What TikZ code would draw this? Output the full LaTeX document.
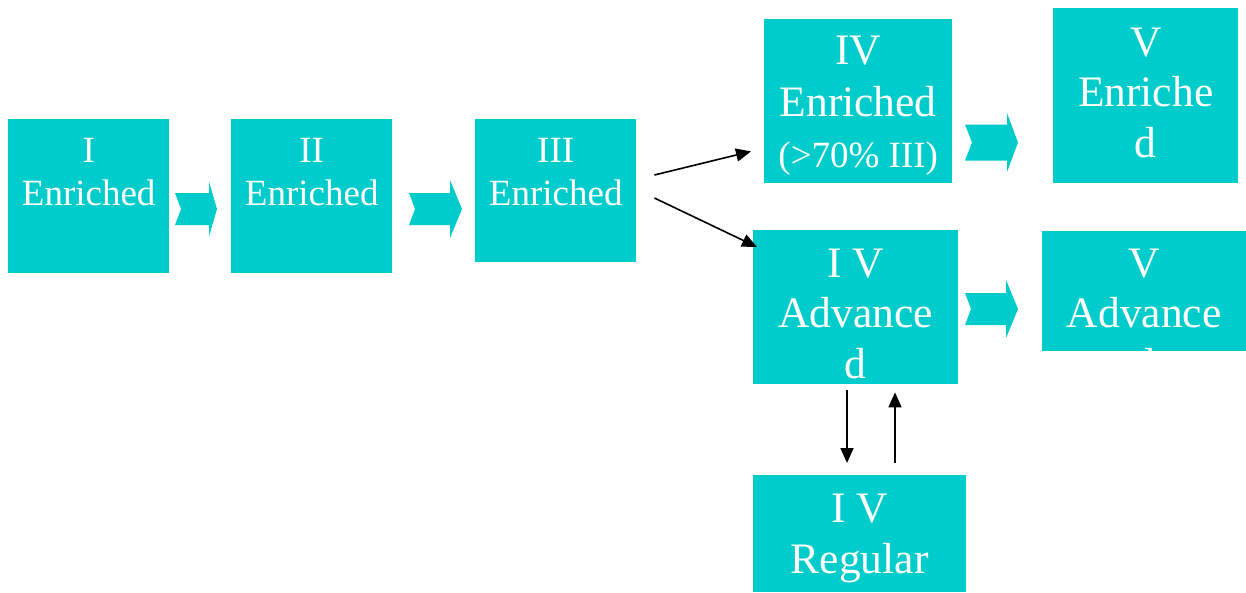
\documentclass[tikz,border=0pt]{standalone}
\usepackage{fontspec}
\setmainfont{Liberation Serif}
\usetikzlibrary{positioning, arrows.meta, calc}
\definecolor{boxcyan}{RGB}{0,204,204}

\begin{document}
\begin{tikzpicture}[x=1pt, y=-1pt,
    every stage/.style={fill=boxcyan, text=white, inner sep=0pt, align=center, anchor=north west},
    small text/.style={font=\fontsize{37}{43}\selectfont},
    big text/.style={font=\fontsize{43.5}{50.5}\selectfont},
    chevron/.style={fill=boxcyan},
    flow/.style={-{Triangle[length=15pt, width=13pt]}, line width=1.6pt}]

    \useasboundingbox (0,0) rectangle (1246,592);

    % Enriched stages I - III
    \node[every stage, small text, minimum width=161pt, text height=86pt, text depth=68pt] (I) at (8,119) {I\\Enriched};
    \node[every stage, small text, minimum width=161pt, text height=86pt, text depth=68pt] (II) at (231,119) {II\\Enriched};
    \node[every stage, small text, minimum width=161pt, text height=86pt, text depth=57pt] (III) at (475,119) {III\\Enriched};

    % Stage IV branches
    \node[every stage, big text, minimum width=188pt, text height=148pt, text depth=16pt] (IVe) at (764,19) {IV\\[2pt]Enriched\\{\fontsize{37}{43}\selectfont(>70\% III)}};
    \node[every stage, big text, minimum width=205pt, text height=148pt, text depth=6pt] (IVa) at (753,230) {I V\\Advance\\d};
    \node[every stage, big text, minimum width=213pt, text height=98pt, text depth=19pt] (IVr) at (753,475) {I V\\Regular};

    % Stage V
    \node[every stage, big text, minimum width=185pt, text height=149pt, text depth=26pt] (Ve) at (1053,8) {V\\Enriche\\d};
    % last line of the advanced box is cut by its lower edge
    \begin{scope}
        \clip (1042,231) rectangle (1246,350);
        \node[every stage, big text, minimum width=204pt, text height=147pt, text depth=0pt] (Va) at (1042,231) {V\\Advance\\d};
    \end{scope}

    % Notched block arrows between stages
    \foreach \x/\y/\l/\b/\h/\k/\n in {175/209/42/16/27.5/8/6, 409/209/53/16/29/12/6, 965/142.5/53/18/29.5/11/7, 965/309/53/16/29/12/6}
        \fill[chevron] (\x,\y-\b) -- (\x+\l-\k,\y-\b) -- (\x+\l-\k,\y-\h) -- (\x+\l,\y) -- (\x+\l-\k,\y+\h) -- (\x+\l-\k,\y+\b) -- (\x,\y+\b) -- (\x+\n,\y) -- cycle;

    % Split after stage III
    \draw[flow] ($(III.north east)+(18,56)$) -- ($(IVe.south west)+(-13,-32)$);
    \draw[flow] ($(III.north east)+(18,79)$) -- ($(IVa.north west)+(4,17)$);

    % Advanced <-> Regular
    \draw[flow] ($(IVa.south west)+(94,6)$) -- ($(IVr.north west)+(94,-12)$);
    \draw[flow] ($(IVr.north west)+(142,-12)$) -- ($(IVa.south west)+(142,8)$);

\end{tikzpicture}
\end{document}
